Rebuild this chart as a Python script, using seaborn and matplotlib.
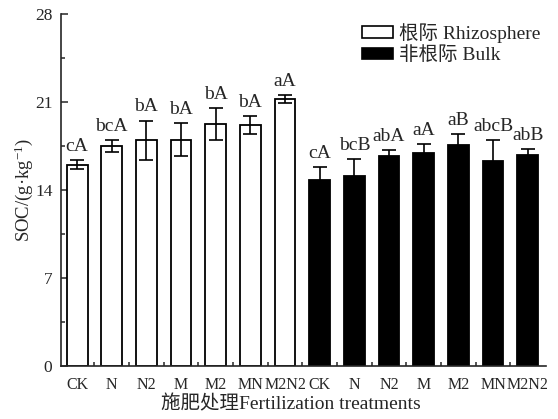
import matplotlib
matplotlib.use("Agg")
import matplotlib.pyplot as plt
from matplotlib.patches import Patch
from matplotlib.ticker import MultipleLocator
import seaborn as sns
import pandas as pd
import numpy as np

treatments = ["CK", "N", "N2", "M", "M2", "MN", "M2N2"]
rhizo_vals = [16.0, 17.5, 17.95, 18.0, 19.25, 19.15, 21.2]
rhizo_err = [0.36, 0.49, 1.57, 1.31, 1.26, 0.73, 0.32]
bulk_vals = [14.8, 15.1, 16.7, 16.95, 17.6, 16.3, 16.8]
bulk_err = [0.99, 1.33, 0.48, 0.72, 0.84, 1.67, 0.45]
rhizo_letters = ["cA", "bcA", "bA", "bA", "bA", "bA", "aA"]
bulk_letters = ["cA", "bcB", "abA", "aA", "aB", "abcB", "abB"]
groups = ["根际 Rhizosphere", "非根际 Bulk"]

sns.set_style("ticks")
serif = ["Liberation Serif", "Noto Sans CJK SC"]
plt.rcParams["font.family"] = serif
plt.rcParams["mathtext.fontset"] = "custom"
plt.rcParams["mathtext.rm"] = "Liberation Serif"
plt.rcParams["mathtext.it"] = "Liberation Serif:italic"

keys = [f"{t}_r" for t in treatments] + [f"{t}_b" for t in treatments]
df = pd.DataFrame({
    "key": keys,
    "value": rhizo_vals + bulk_vals,
    "err": rhizo_err + bulk_err,
    "group": [groups[0]] * 7 + [groups[1]] * 7,
    "letter": rhizo_letters + bulk_letters,
    "label": treatments + treatments,
})

fig = plt.figure(figsize=(5.58, 4.19), dpi=100)
ax = fig.add_axes([0.109, 0.1272, 0.869, 0.8394])

palette = {groups[0]: "white", groups[1]: "black"}
sns.barplot(data=df, x="key", y="value", hue="group", order=keys,
            palette=palette, dodge=False, width=0.6, edgecolor="black",
            linewidth=1.3, errorbar=None, legend=False, ax=ax)

xs = np.arange(len(df))
ax.errorbar(xs, df["value"], yerr=df["err"], fmt="none", ecolor="black",
            elinewidth=1.2, capsize=5, capthick=1.2, zorder=3)

for x, v, e, t in zip(xs, df["value"], df["err"], df["letter"]):
    ax.annotate(t, (x, v + e), xytext=(0, 6.5), textcoords="offset points",
                ha="center", va="baseline", fontsize=14)

ax.set_xlim(-0.47, 13.52)
ax.set_ylim(0, 28)
ax.yaxis.set_major_locator(MultipleLocator(7))
ax.yaxis.set_minor_locator(MultipleLocator(3.5))
ax.set_xticks(xs)
ax.set_xticklabels(df["label"])
ax.set_xticks(xs[:-1] + 0.5, minor=True)
ax.tick_params(axis="both", which="major", direction="in", length=5,
               width=1.1, labelsize=11.5)
ax.tick_params(axis="y", which="major", labelsize=12.5, pad=6)
ax.tick_params(axis="x", which="major", pad=8)
ax.tick_params(axis="both", which="minor", direction="in", length=3, width=1.1)
for s in ["top", "right"]:
    ax.spines[s].set_visible(False)
for s in ["left", "bottom"]:
    ax.spines[s].set_linewidth(1.2)

ax.set_ylabel("SOC/(g·kg$^{-1}$)", fontsize=13.5, labelpad=0)
ax.set_xlabel("施肥处理Fertilization treatments", fontsize=14, labelpad=2)
ax.xaxis.set_label_coords(0.475, -0.085)

handles = [Patch(facecolor="white", edgecolor="black", linewidth=1.2, label=groups[0]),
           Patch(facecolor="black", edgecolor="black", linewidth=1.2, label=groups[1])]
ax.legend(handles=handles, loc="upper left", bbox_to_anchor=(0.622, 0.975),
          frameon=False, borderpad=0, borderaxespad=0, handlelength=1.55,
          handleheight=0.55, handletextpad=0.35, labelspacing=0.2, fontsize=14)

fig.savefig("out.png", dpi=100)
